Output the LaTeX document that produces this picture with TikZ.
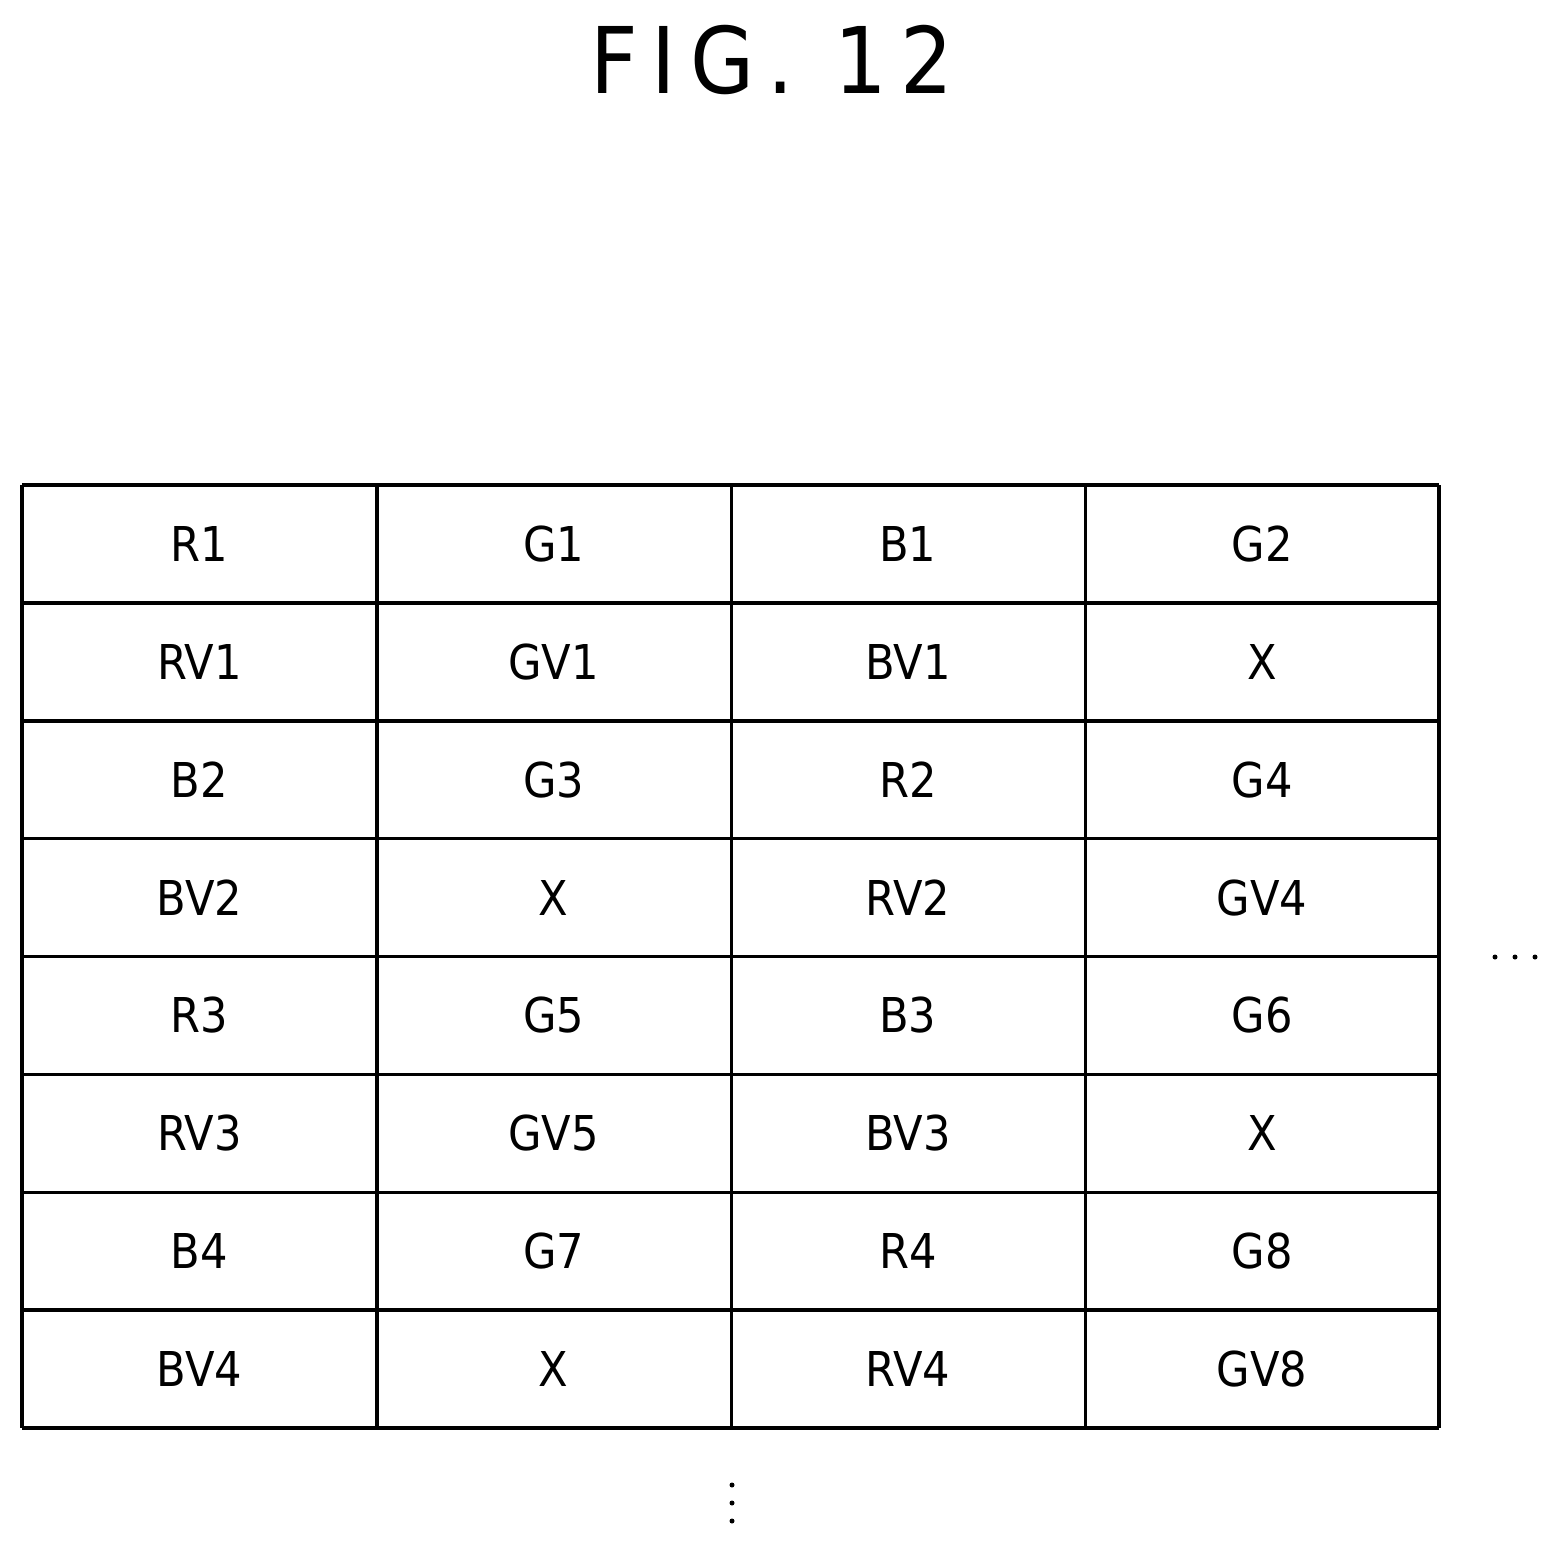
\documentclass[tikz,border=0pt]{standalone}
\usepackage{fontspec}
\setmainfont{DejaVu Sans Condensed}
\newfontfamily\titlefont[LetterSpace=15]{DejaVu Sans Condensed}
\begin{document}
\begin{tikzpicture}[x=1pt,y=-1pt,
  cell/.style={font=\fontsize{48}{50}\selectfont, anchor=center},
  grid/.style={line width=3.5pt}]
\useasboundingbox (0,0) rectangle (1556,1545);
\node (title) at (772,60) {\titlefont\fontsize{92}{96}\selectfont FIG. 12};
\foreach \x in {22,376.75,731.5,1085.25,1439} \draw[grid] (\x,485) -- (\x,1428);
\foreach \i in {0,...,8} \draw[grid] (22,485+\i*117.875) -- (1439,485+\i*117.875);
\foreach \r/\a/\b/\c/\d in {0/R1/G1/B1/G2,1/RV1/GV1/BV1/X,2/B2/G3/R2/G4,3/BV2/X/RV2/GV4,4/R3/G5/B3/G6,5/RV3/GV5/BV3/X,6/B4/G7/R4/G8,7/BV4/X/RV4/GV8} {
  \node[cell] (c\r a) at (199.4, 544+\r*117.875) {\a};
  \node[cell] (c\r b) at (553.6, 544+\r*117.875) {\b};
  \node[cell] (c\r c) at (907.9, 544+\r*117.875) {\c};
  \node[cell] (c\r d) at (1262.1, 544+\r*117.875) {\d};
}
\foreach \x in {1495,1515,1535} \fill (\x,957) circle (2.5);
\foreach \y in {1485,1503,1521} \fill (732,\y) circle (2.5);
\end{tikzpicture}
\end{document}
